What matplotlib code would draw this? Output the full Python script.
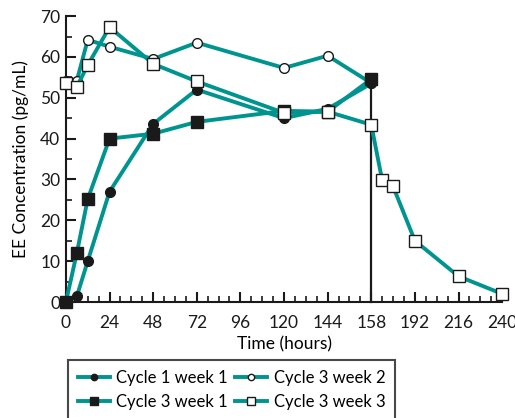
import matplotlib.pyplot as plt

plt.rcParams['font.family'] = ['Lato', 'DejaVu Sans']

# data
t_c1w1 = [0, 6, 12, 24, 48, 72, 120, 144, 168]
c1w1 = [0, 1.4, 10.0, 27.0, 43.6, 52.0, 45.0, 47.3, 53.5]

t_c3w1 = [0, 6, 12, 24, 48, 72, 120, 144, 168]
c3w1 = [0, 12.0, 25.2, 40.0, 41.2, 44.1, 46.8, 46.6, 54.6]

t_c3w2 = [0, 6, 12, 24, 48, 72, 120, 144, 168]
c3w2 = [54.0, 54.2, 64.2, 62.5, 59.5, 63.5, 57.3, 60.3, 53.6]

t_c3w3 = [0, 6, 12, 24, 48, 72, 120, 144, 168, 174, 180, 192, 216, 240]
c3w3 = [53.7, 52.7, 58.0, 67.3, 58.3, 54.0, 46.3, 46.6, 43.4, 29.8, 28.3, 15.0, 6.3, 2.0]

xticks = [0, 24, 48, 72, 96, 120, 144, 168, 192, 216, 240]
xlabels = ['0', '24', '48', '72', '96', '120', '144', '158', '192', '216', '240']

teal = '#00948f'
ink = '#1a1a1a'

fig = plt.figure(figsize=(5.15, 4.18), dpi=100)
ax = fig.add_axes([0.128, 0.2775, 0.847, 0.684])

common = dict(color=teal, lw=2.8, markeredgecolor=ink, markeredgewidth=1.0, clip_on=False)

# vertical line at end of dosing
ax.plot([168, 168], [0, c3w1[-1]], color=ink, lw=1.6, zorder=1, clip_on=False)

l2, = ax.plot(t_c3w2, c3w2, marker='o', ms=7, markerfacecolor='white',
              label='Cycle 3 week 2', zorder=2, **common)
l1, = ax.plot(t_c1w1, c1w1, marker='o', ms=7, markerfacecolor=ink,
              label='Cycle 1 week 1', zorder=3, **common)
l3, = ax.plot(t_c3w1, c3w1, marker='s', ms=8.5, markerfacecolor=ink,
              label='Cycle 3 week 1', zorder=4, **common)
l4, = ax.plot(t_c3w3, c3w3, marker='s', ms=8.5, markerfacecolor='white',
              label='Cycle 3 week 3', zorder=5, **common)

ax.set_xlim(0, 240)
ax.set_ylim(0, 70)
ax.set_xticks(xticks)
ax.set_xticklabels(xlabels)
ax.set_xticks(range(0, 241, 6), minor=True)
ax.set_yticks(range(0, 71, 10))
ax.set_yticks(range(0, 71, 5), minor=True)

for s in ['top', 'right']:
    ax.spines[s].set_visible(False)
for s in ['left', 'bottom']:
    ax.spines[s].set_linewidth(1.5)
    ax.spines[s].set_color(ink)

ax.tick_params(axis='both', which='major', direction='in', length=7, width=1.5,
               labelsize=12.5, colors=ink, pad=4)
ax.tick_params(axis='x', which='major', pad=9)
ax.tick_params(axis='both', which='minor', direction='in', length=4, width=1.2,
               colors=ink)

ax.set_xlabel('Time (hours)', fontsize=12.5, labelpad=4)
ax.set_ylabel('EE Concentration (pg/mL)', fontsize=12.5, labelpad=8)

leg = fig.legend(handles=[l1, l3, l2, l4], ncol=2, loc='upper left',
                 bbox_to_anchor=(0.132, 0.139), borderaxespad=0, fontsize=12,
                 frameon=True, fancybox=False, edgecolor=ink, handlelength=1.9,
                 handletextpad=0.4, columnspacing=0.45, borderpad=0.6,
                 labelspacing=0.5, markerscale=0.65)
leg.get_frame().set_linewidth(1.5)

fig.savefig('out.png', dpi=100)
